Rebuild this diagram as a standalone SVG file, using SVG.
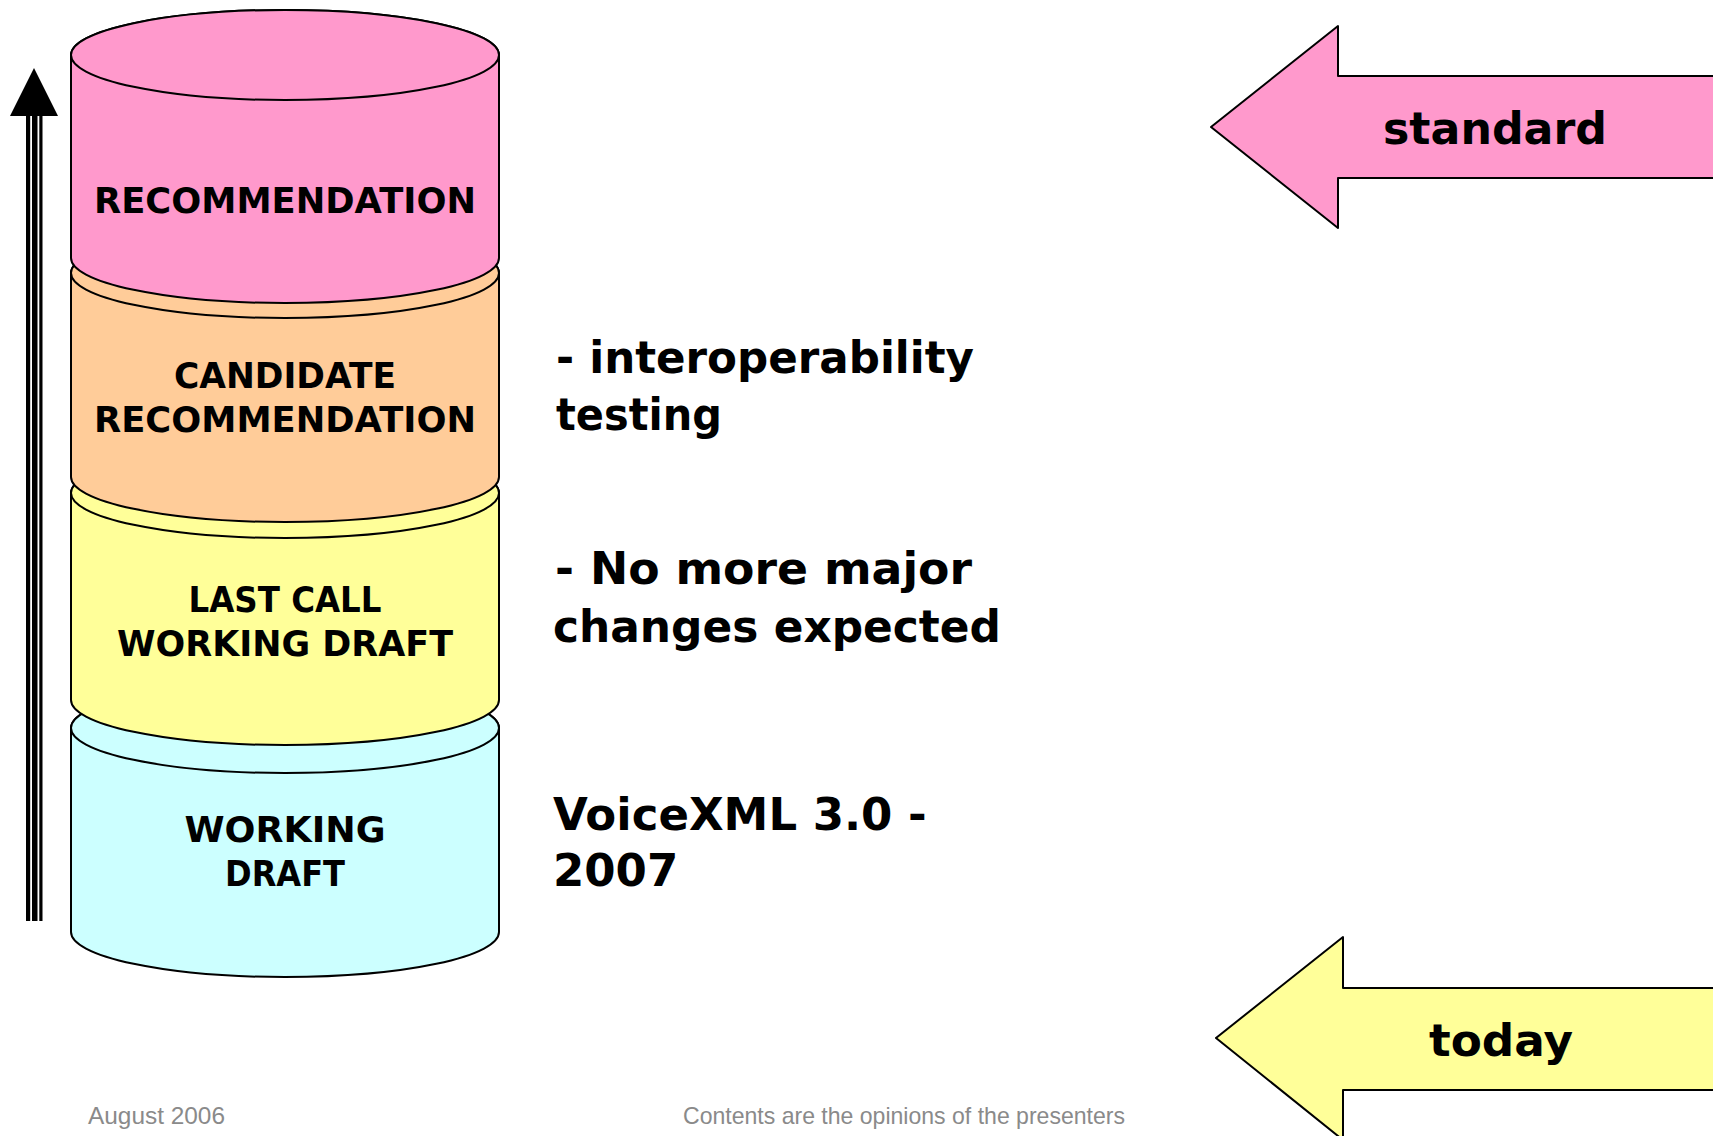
<svg xmlns="http://www.w3.org/2000/svg" width="1713" height="1136" viewBox="0 0 1713 1136">
  <style>
    .shape { stroke: #000; stroke-width: 2; stroke-linejoin: round; }
    .lbl { font-family: "DejaVu Sans", Verdana, sans-serif; font-weight: bold; fill: #000; }
    .cyl { font-size: 35px; text-anchor: middle; }
    .note { font-size: 45px; }
    .tag { font-size: 44px; }
    .foot { font-family: "Liberation Sans", Arial, sans-serif; font-size: 24px; fill: #8a8a8a; }
  </style>

  <rect width="1713" height="1136" fill="#fff"/>

  <!-- progress arrow on the left -->
  <g id="connectors">
    <rect x="26" y="114" width="16.5" height="807" fill="#000"/>
    <rect x="30.2" y="116" width="1.8" height="805" fill="#fff"/>
    <rect x="37.5" y="116" width="1.8" height="805" fill="#fff"/>
    <polygon points="34,68 10,116 58,116" fill="#000"/>
  </g>

  <!-- stack of cylinders, drawn bottom-up so each sits over the one below -->
  <g id="working-draft">
    <path class="shape" fill="#CCFFFF" d="M71,728 A214,45 0 0 1 499,728 L499,932 A214,45 0 0 1 71,932 Z"/>
    <ellipse class="shape" fill="#CCFFFF" cx="285" cy="728" rx="214" ry="45"/>
    <text class="lbl cyl" x="285" y="842" textLength="201" lengthAdjust="spacingAndGlyphs">WORKING</text>
    <text class="lbl cyl" x="285" y="886" textLength="120" lengthAdjust="spacingAndGlyphs">DRAFT</text>
  </g>

  <g id="last-call">
    <path class="shape" fill="#FFFF99" d="M71,493 A214,45 0 0 1 499,493 L499,700 A214,45 0 0 1 71,700 Z"/>
    <ellipse class="shape" fill="#FFFF99" cx="285" cy="493" rx="214" ry="45"/>
    <text class="lbl cyl" x="285" y="612" textLength="193" lengthAdjust="spacingAndGlyphs">LAST CALL</text>
    <text class="lbl cyl" x="285" y="656" textLength="336" lengthAdjust="spacingAndGlyphs">WORKING DRAFT</text>
  </g>

  <g id="candidate">
    <path class="shape" fill="#FFCC99" d="M71,273 A214,45 0 0 1 499,273 L499,477 A214,45 0 0 1 71,477 Z"/>
    <ellipse class="shape" fill="#FFCC99" cx="285" cy="273" rx="214" ry="45"/>
    <text class="lbl cyl" x="285" y="388" textLength="222" lengthAdjust="spacingAndGlyphs">CANDIDATE</text>
    <text class="lbl cyl" x="285" y="432" textLength="382" lengthAdjust="spacingAndGlyphs">RECOMMENDATION</text>
  </g>

  <g id="recommendation">
    <path class="shape" fill="#FF99CC" d="M71,55 A214,45 0 0 1 499,55 L499,258 A214,45 0 0 1 71,258 Z"/>
    <ellipse class="shape" fill="#FF99CC" cx="285" cy="55" rx="214" ry="45"/>
    <text class="lbl cyl" x="285" y="213" textLength="382" lengthAdjust="spacingAndGlyphs">RECOMMENDATION</text>
  </g>

  <!-- notes beside the stack -->
  <g id="note-interop">
    <text class="lbl note" x="556" y="373" textLength="418" lengthAdjust="spacingAndGlyphs">- interoperability</text>
    <text class="lbl note" x="556" y="430" textLength="166" lengthAdjust="spacingAndGlyphs">testing</text>
  </g>
  <g id="note-lastcall">
    <text class="lbl note" x="555" y="584" textLength="417" lengthAdjust="spacingAndGlyphs">- No more major</text>
    <text class="lbl note" x="553" y="642" textLength="448" lengthAdjust="spacingAndGlyphs">changes expected</text>
  </g>
  <g id="note-voicexml">
    <text class="lbl note" x="553" y="830">VoiceXML 3.0 -</text>
    <text class="lbl note" x="553" y="886">2007</text>
  </g>

  <!-- block arrows on the right -->
  <g id="standard">
    <polygon class="shape" fill="#FF99CC" points="1211,127 1338,26 1338,76 1720,76 1720,178 1338,178 1338,228"/>
    <text class="lbl tag" x="1383" y="144" textLength="224" lengthAdjust="spacingAndGlyphs">standard</text>
  </g>
  <g id="today">
    <polygon class="shape" fill="#FFFF99" points="1216,1038 1343,937 1343,988 1720,988 1720,1090 1343,1090 1343,1140"/>
    <text class="lbl tag" x="1429" y="1056" textLength="144" lengthAdjust="spacingAndGlyphs">today</text>
  </g>

  <!-- footer -->
  <g id="footer">
    <text class="foot" x="88" y="1124" textLength="137" lengthAdjust="spacingAndGlyphs">August 2006</text>
    <text class="foot" x="683" y="1124" textLength="442" lengthAdjust="spacingAndGlyphs">Contents are the opinions of the presenters</text>
  </g>
</svg>
